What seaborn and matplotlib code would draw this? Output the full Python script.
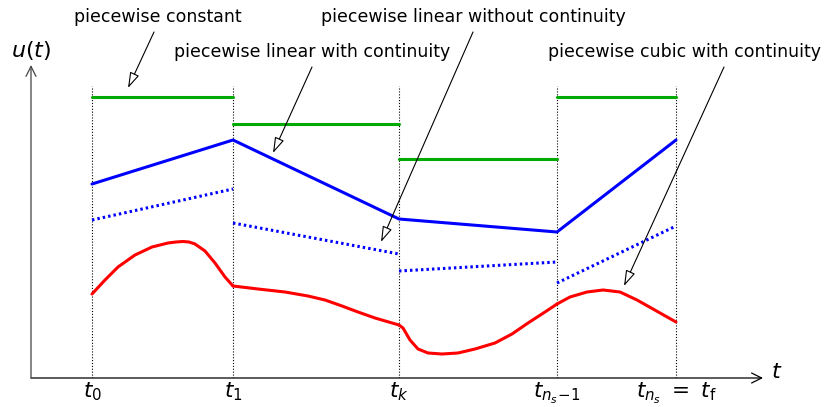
import numpy as np
import pandas as pd
import seaborn as sns
import matplotlib.pyplot as plt

# knot positions t_0, t_1, t_k, t_{ns-1}, t_ns
knots = [0.61, 2.02, 3.68, 5.26, 6.45]
knot_labels = [r"$t_0$", r"$t_1$", r"$t_k$", r"$t_{n_s\!-\!1}$", r"$t_{n_s}\ =\ t_\mathrm{f}$"]

# piecewise constant (one value per interval)
const_vals = [2.81, 2.54, 2.19, 2.81]

# piecewise linear with continuity (value at each knot)
lin_cont_vals = [1.94, 2.38, 1.59, 1.46, 2.38]

# piecewise linear without continuity (start, end per interval)
lin_disc_start = [1.58, 1.55, 1.07, 0.95]
lin_disc_end = [1.89, 1.24, 1.16, 1.52]

# piecewise cubic with continuity, points read per interval
cubic_x = [
    [0.61, 0.74, 0.87, 1.04, 1.21, 1.37, 1.45, 1.52, 1.58, 1.64, 1.74, 1.84, 1.94, 2.02],
    [2.02, 2.27, 2.54, 2.77, 2.94, 3.11, 3.27, 3.44, 3.68],
    [3.68, 3.72, 3.79, 3.87, 3.97, 4.11, 4.27, 4.44, 4.64, 4.81, 4.97, 5.14, 5.26],
    [5.26, 5.39, 5.56, 5.72, 5.89, 6.06, 6.22, 6.45],
]
cubic_y = [
    [0.84, 0.98, 1.11, 1.23, 1.31, 1.35, 1.36, 1.365, 1.36, 1.34, 1.27, 1.15, 1.01, 0.92],
    [0.92, 0.89, 0.86, 0.82, 0.78, 0.72, 0.66, 0.60, 0.53],
    [0.53, 0.50, 0.38, 0.29, 0.25, 0.24, 0.25, 0.29, 0.35, 0.44, 0.55, 0.66, 0.74],
    [0.74, 0.81, 0.86, 0.88, 0.86, 0.78, 0.69, 0.56],
]

annotations = [
    ("piecewise constant", (1.27, 3.61), (1.23, 3.46), (0.97, 2.90)),
    ("piecewise linear with continuity", (2.81, 3.26), (2.81, 3.11), (2.42, 2.25)),
    ("piecewise linear without continuity", (4.42, 3.61), (4.42, 3.46), (3.50, 1.36)),
    ("piecewise cubic with continuity", (6.54, 3.26), (6.93, 3.11), (5.93, 0.92)),
]

sns.set_theme(style="white")
plt.rcParams["font.family"] = ["DejaVu Sans"]
plt.rcParams["mathtext.fontset"] = "dejavusans"
plt.rcParams["text.color"] = "black"
plt.rcParams["xtick.color"] = "black"
plt.rcParams["lines.solid_joinstyle"] = "round"

GREEN = "#00aa00"
BLUE = "#0000ff"
RED = "#ff0000"
LW = 2.2

fig = plt.figure(figsize=(8.3, 4.07), dpi=100)
ax = fig.add_axes([31 / 830, 29 / 407, 732 / 830, 313 / 407])
ax.set_xlim(0, 7.32)
ax.set_ylim(0, 3.13)
for s in ax.spines.values():
    s.set_visible(False)

# vertical dotted knot lines
for t in knots:
    ax.plot([t, t], [0, 2.92], color="black", linestyle=(0, (1, 1.6)), linewidth=0.8)

# piecewise constant
for i, v in enumerate(const_vals):
    seg = pd.DataFrame({"t": [knots[i], knots[i + 1]], "u": [v, v]})
    sns.lineplot(data=seg, x="t", y="u", ax=ax, color=GREEN, linewidth=LW)

# piecewise linear continuous
sns.lineplot(x=knots, y=lin_cont_vals, ax=ax, color=BLUE, linewidth=LW)

# piecewise linear discontinuous
for i in range(4):
    sns.lineplot(x=[knots[i], knots[i + 1]], y=[lin_disc_start[i], lin_disc_end[i]],
                 ax=ax, color=BLUE, linewidth=LW)
    ax.lines[-1].set_linestyle((0, (0.8, 1.0)))

# piecewise cubic
for xs, ys in zip(cubic_x, cubic_y):
    sns.lineplot(x=xs, y=ys, ax=ax, color=RED, linewidth=LW, sort=False)

# axes arrows
ax.annotate("", xy=(1.0, 0), xytext=(0, 0), xycoords="axes fraction",
            arrowprops=dict(arrowstyle="->", color="black", lw=0.9,
                            mutation_scale=18, shrinkA=0, shrinkB=0))
ax.annotate("", xy=(0, 1.0), xytext=(0, 0), xycoords="axes fraction",
            arrowprops=dict(arrowstyle="->", color="#444444", lw=0.9,
                            mutation_scale=18, shrinkA=0, shrinkB=0))
ax.text(0.0, 3.28, r"$u(t)$", fontsize=16, ha="center", va="center", clip_on=False)
ax.text(7.46, 0.06, r"$t$", fontsize=16, ha="center", va="center", clip_on=False)

ax.set_xticks(knots)
ax.set_xticklabels(knot_labels, fontsize=15.5)
ax.set_yticks([])
ax.tick_params(axis="x", length=0, pad=2)
ax.set_xlabel("")
ax.set_ylabel("")

for label, txt_pos, start, tip in annotations:
    ax.text(txt_pos[0], txt_pos[1], label, fontsize=12.5, ha="center", va="center",
            clip_on=False)
    ax.annotate("", xy=tip, xytext=start, annotation_clip=False,
                arrowprops=dict(arrowstyle="-|>,head_length=0.8,head_width=0.25",
                                fc="white", ec="black", lw=0.8,
                                mutation_scale=12, shrinkA=0, shrinkB=0))

fig.savefig("out.png", dpi=100)
